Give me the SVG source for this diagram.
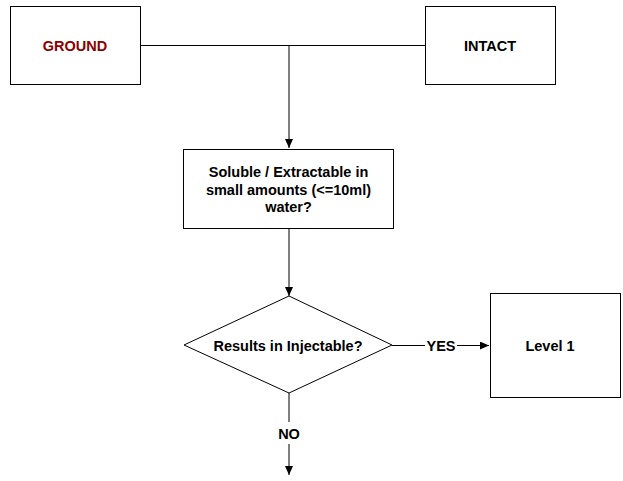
<svg xmlns="http://www.w3.org/2000/svg" width="623" height="481" viewBox="0 0 623 481">
<defs>
<marker id="ah" markerWidth="10" markerHeight="10" refX="9" refY="4" orient="auto" markerUnits="userSpaceOnUse">
<path d="M0,0 L9,4 L0,8 Z" fill="#000"/>
</marker>
<style>
.box{fill:#fff;stroke:#000;stroke-width:1}
.t{font-family:"Liberation Sans",Arial,sans-serif;font-weight:bold;font-size:14.5px;text-anchor:middle;fill:#000}
.c{fill:none;stroke:#000;stroke-width:1}
</style>
</defs>
<rect width="623" height="481" fill="#fff"/>
<g id="connectors">
<path class="c" d="M140,45.5 H425"/>
<path class="c" d="M289,45.5 V148" marker-end="url(#ah)"/>
<path class="c" d="M289,228 V296" marker-end="url(#ah)"/>
<path class="c" d="M392,345.5 H425"/>
<path class="c" d="M457,345.5 H489" marker-end="url(#ah)"/>
<path class="c" d="M289,393 V422"/>
<path class="c" d="M289,444 V475" marker-end="url(#ah)"/>
<text class="t" x="441" y="350.5">YES</text>
<text class="t" x="289" y="439">NO</text>
</g>
<g id="ground">
<rect class="box" x="10.5" y="6.5" width="130" height="78"/>
<text class="t" x="75" y="50.5" style="fill:#8B0000">GROUND</text>
</g>
<g id="intact">
<rect class="box" x="425.5" y="6.5" width="130" height="78"/>
<text class="t" x="490" y="50.5">INTACT</text>
</g>
<g id="soluble">
<rect class="box" x="183.5" y="149.5" width="210" height="79"/>
<text class="t" x="288.5" y="177">Soluble / Extractable in</text>
<text class="t" x="288.5" y="194.5">small amounts (&lt;=10ml)</text>
<text class="t" x="288.5" y="212">water?</text>
</g>
<g id="injectable">
<polygon class="box" points="289,296 392,345 289,393 184,345"/>
<text class="t" x="288" y="350.5">Results in Injectable?</text>
</g>
<g id="level1">
<rect class="box" x="490.5" y="293.5" width="130" height="104"/>
<text class="t" x="550" y="350.5">Level 1</text>
</g>
</svg>
